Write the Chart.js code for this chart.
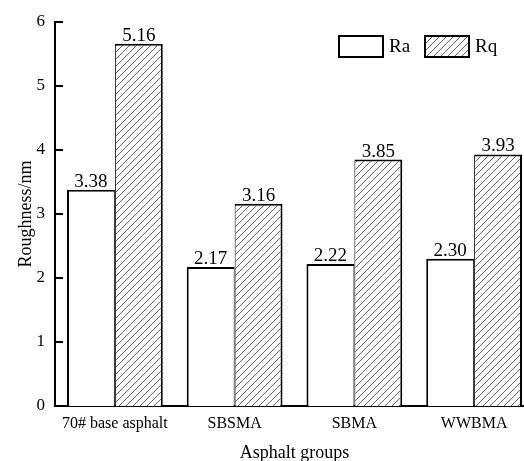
<!DOCTYPE html>
<html>
<head>
<meta charset="utf-8">
<script src="https://cdn.jsdelivr.net/npm/chart.js@4.4.1/dist/chart.umd.min.js"></script>
<style>
html, body { margin: 0; padding: 0; overflow: hidden; background: #fff; }
</style>
</head>
<body>
<canvas id="grafico" width="534" height="461"></canvas>
<script>
// categorias e valores
var groups = ['70# base asphalt', 'SBSMA', 'SBMA', 'WWBMA'];
var ra = [3.38, 2.17, 2.22, 2.30];
var rq = [5.66, 3.16, 3.85, 3.93];   // barra de 70# desenhada acima do rótulo 5.16
var raText = ['3.38', '2.17', '2.22', '2.30'];
var rqText = ['5.16', '3.16', '3.85', '3.93'];
var yTicks = [0, 1, 2, 3, 4, 5, 6];

var serif = '"Liberation Serif", "Times New Roman", serif';

// padrão hachurado (///)
function hatch() {
    var s = 7;
    var p = document.createElement('canvas');
    p.width = s; p.height = s;
    var c = p.getContext('2d');
    c.fillStyle = '#fff';
    c.fillRect(0, 0, s, s);
    c.strokeStyle = '#555';
    c.lineWidth = 0.9;
    c.beginPath();
    c.moveTo(0, s); c.lineTo(s, 0);
    c.moveTo(-1, 1); c.lineTo(1, -1);
    c.moveTo(s - 1, s + 1); c.lineTo(s + 1, s - 1);
    c.stroke();
    return c.createPattern(p, 'repeat');
}

var ctx = document.querySelector('#grafico').getContext('2d');
var rqFill = hatch();

// rótulos de valor acima das barras
var valueLabels = {
    id: 'valueLabels',
    afterDatasetsDraw: function (chart) {
        var c = chart.ctx;
        c.save();
        c.font = '19px ' + serif;
        c.fillStyle = '#000';
        c.textAlign = 'center';
        c.textBaseline = 'alphabetic';
        chart.data.datasets.forEach(function (ds, i) {
            chart.getDatasetMeta(i).data.forEach(function (bar, j) {
                c.fillText(ds.valueText[j], bar.x, bar.y - 3);
            });
        });
        c.restore();
    }
};

// marcas do eixo y para dentro
var innerTicks = {
    id: 'innerTicks',
    afterDraw: function (chart) {
        var y = chart.scales.y, c = chart.ctx;
        c.save();
        c.strokeStyle = '#000';
        c.lineWidth = 2;
        y.ticks.forEach(function (t) {
            var py = Math.round(y.getPixelForValue(t.value));
            c.beginPath();
            c.moveTo(y.right, py);
            c.lineTo(y.right + 8, py);
            c.stroke();
        });
        c.restore();
    }
};

// legenda dentro da área do gráfico
var boxLegend = {
    id: 'boxLegend',
    afterDraw: function (chart) {
        var c = chart.ctx;
        var items = [{ x: 339, ds: chart.data.datasets[0] }, { x: 425, ds: chart.data.datasets[1] }];
        c.save();
        c.font = '19px ' + serif;
        c.textBaseline = 'middle';
        c.textAlign = 'left';
        items.forEach(function (it) {
            c.fillStyle = it.ds.backgroundColor;
            c.fillRect(it.x, 36, 44, 21);
            c.strokeStyle = '#000';
            c.lineWidth = 2;
            c.strokeRect(it.x, 36, 44, 21);
            c.fillStyle = '#000';
            c.fillText(it.ds.label, it.x + 50, 47);
        });
        c.restore();
    }
};

var chart = new Chart(ctx, {
    type: 'bar',
    data: {
        labels: groups,
        datasets: [{
            label: 'Ra',
            data: ra,
            valueText: raText,
            backgroundColor: '#fff',
            borderColor: '#000',
            borderWidth: { top: 2, left: 2, right: 1, bottom: 0 },
            borderSkipped: false
        },
        {
            label: 'Rq',
            data: rq,
            valueText: rqText,
            backgroundColor: rqFill,
            borderColor: '#000',
            borderWidth: { top: 2, left: 1, right: 2, bottom: 0 },
            borderSkipped: false
        }]
    },
    options: {
        responsive: false,
        animation: false,
        layout: { padding: { top: 22, right: 0, left: 0, bottom: 0 } },
        datasets: { bar: { categoryPercentage: 0.8, barPercentage: 1.0 } },
        plugins: { legend: { display: false }, tooltip: { enabled: false } },
        scales: {
            x: {
                grid: { display: false, drawTicks: false },
                border: { color: '#000', width: 2 },
                ticks: { color: '#000', padding: 8, font: { family: serif, size: 16 } },
                title: { display: true, text: 'Asphalt groups', color: '#000', padding: { top: -3, bottom: -3 }, font: { family: serif, size: 18 } },
                afterFit: function (s) { s.height = 55; }
            },
            y: {
                min: 0,
                max: 6,
                afterBuildTicks: function (s) { s.ticks = yTicks.map(function (v) { return { value: v }; }); },
                grid: { display: false, drawTicks: false },
                border: { color: '#000', width: 2 },
                ticks: { color: '#000', padding: 10, font: { family: serif, size: 17 } },
                title: { display: true, text: 'Roughness/nm', color: '#000', padding: { top: 15, bottom: 0 }, font: { family: serif, size: 18 } },
                afterFit: function (s) { s.width = 55; }
            }
        }
    },
    plugins: [valueLabels, innerTicks, boxLegend]
});
</script>
</body>
</html>
